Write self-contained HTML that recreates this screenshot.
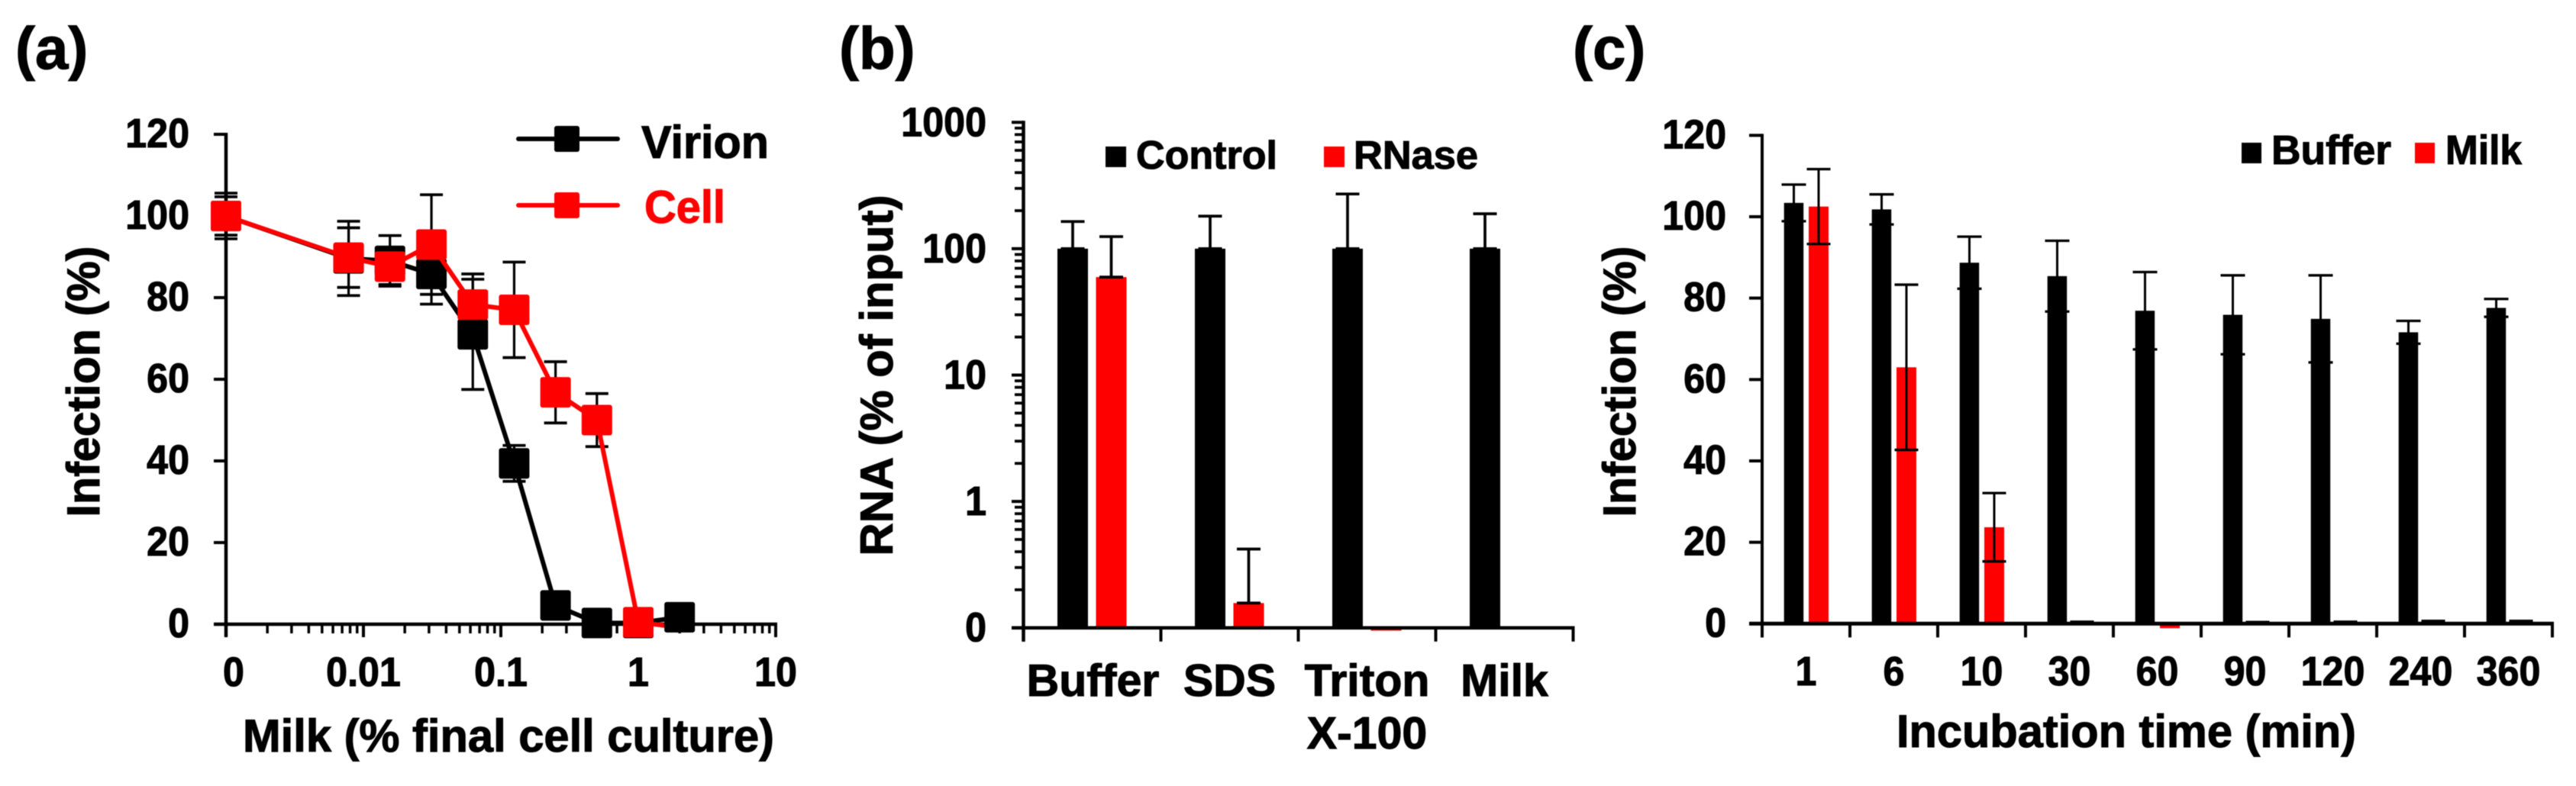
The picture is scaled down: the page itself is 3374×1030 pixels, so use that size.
<!DOCTYPE html>
<html lang="en">
<head>
<meta charset="utf-8">
<title>Milk inhibits infection: panels a, b and c</title>
<style>
html,body{margin:0;padding:0;background:#fff;}
svg{display:block;filter:blur(0.5px);}
text{font-family:"Liberation Sans",sans-serif;font-weight:700;fill:#000;stroke:#000;stroke-width:1.1px;}
</style>
</head>
<body>
<svg id="figure" xmlns="http://www.w3.org/2000/svg" width="3374" height="1030" viewBox="0 0 3374 1030">
  <rect x="0" y="0" width="3374" height="1030" fill="#fff"/>

  <text x="20" y="90" font-size="78">(a)</text>
  <text x="1099" y="90" font-size="78">(b)</text>
  <text x="2060" y="90" font-size="78">(c)</text>

  <g id="panel-a"></g>
  <g id="panel-b"></g>
  <g id="panel-c"></g>

  <text transform="translate(130,500) rotate(-90)" text-anchor="middle" font-size="60" textLength="355" lengthAdjust="spacingAndGlyphs">Infection (%)</text>
  <text x="666" y="985" text-anchor="middle" font-size="60" textLength="696" lengthAdjust="spacingAndGlyphs">Milk (% final cell culture)</text>

  <g>
    <line x1="679" y1="182" x2="809" y2="182" stroke="#000" stroke-width="6" stroke-linecap="round"/>
    <rect x="726" y="165" width="33" height="34" rx="3" fill="#000"/>
    <text x="840" y="207" font-size="60" textLength="167" lengthAdjust="spacingAndGlyphs">Virion</text>
    <line x1="679" y1="269" x2="809" y2="269" stroke="#f00" stroke-width="6" stroke-linecap="round"/>
    <rect x="726" y="252" width="33" height="34" rx="3" fill="#f00"/>
    <text x="844" y="292" font-size="60" textLength="106" lengthAdjust="spacingAndGlyphs" style="fill:#f00;stroke:#f00">Cell</text>
  </g>

  <text transform="translate(1169,492) rotate(-90)" text-anchor="middle" font-size="60" textLength="473" lengthAdjust="spacingAndGlyphs">RNA (% of input)</text>
  <g>
    <rect x="1448" y="192" width="27" height="27" fill="#000"/>
    <text x="1488" y="221" font-size="52" textLength="185" lengthAdjust="spacingAndGlyphs">Control</text>
    <rect x="1734" y="192" width="27" height="27" fill="#f00"/>
    <text x="1773" y="221" font-size="52" textLength="163" lengthAdjust="spacingAndGlyphs">RNase</text>
  </g>

  <text transform="translate(2142,500) rotate(-90)" text-anchor="middle" font-size="60" textLength="355" lengthAdjust="spacingAndGlyphs">Infection (%)</text>
  <text x="2785" y="979" text-anchor="middle" font-size="60" textLength="602" lengthAdjust="spacingAndGlyphs">Incubation time (min)</text>
  <g>
    <rect x="2936" y="187" width="26" height="27" fill="#000"/>
    <text x="2975" y="215" font-size="54" textLength="157" lengthAdjust="spacingAndGlyphs">Buffer</text>
    <rect x="3163" y="187" width="26" height="27" fill="#f00"/>
    <text x="3203" y="215" font-size="54" textLength="100" lengthAdjust="spacingAndGlyphs">Milk</text>
  </g>
</svg>

<script>
// Panel (a) data
const aDoses = [0, 0.0078, 0.0156, 0.03125, 0.0625, 0.125, 0.25, 0.5, 1, 2];
const aVirion = [100, 89.6, 89, 85.8, 71, 39.4, 4.6, 0.3, 0.3, 1.7];
const aVirionErr = [5.6, 9.1, 6.2, 7.4, 13.5, 4.4, 0, 0, 0, 0];
const aCell = [100, 89.8, 87.6, 93, 78.3, 77, 56.8, 50, 0.5, -0.8];
const aCellErr = [4.7, 7.3, 4.4, 12.2, 7.5, 11.7, 7.5, 6.5, 0, 0];
const aYTicks = [0, 20, 40, 60, 80, 100, 120];
const aXTicks = [0.001, 0.01, 0.1, 1, 10];
const aXTickLabels = ['0', '0.01', '0.1', '1', '10'];

// Panel (b) data
const bCategories = ['Buffer', 'SDS', 'Triton|X-100', 'Milk'];
const bControl = [100, 100, 100, 100];
const bControlUpper = [164, 181, 271, 189];
const bRNase = [59.6, 0.157, 0.095, 0.1];
const bRNaseUpper = [124.6, 0.42, null, null];
const bYTicks = [0.1, 1, 10, 100, 1000];
const bYTickLabels = ['0', '1', '10', '100', '1000'];

// Panel (c) data
const cCategories = ['1', '6', '10', '30', '60', '90', '120', '240', '360'];
const cBuffer = [103.4, 101.8, 88.7, 85.4, 76.9, 75.9, 74.9, 71.6, 77.6];
const cBufferErr = [4.5, 3.7, 6.4, 8.7, 9.5, 9.7, 10.7, 2.8, 2.2];
const cMilk = [102.5, 63, 23.7, 0.45, -1.1, 0.4, 0.45, 0.65, 0.65];
const cMilkErr = [9.2, 20.3, 8.4, 0, 0, 0, 0, 0, 0];
const cYTicks = [0, 20, 40, 60, 80, 100, 120];

const NS = 'http://www.w3.org/2000/svg';
function mk(tag, parent, attrs) {
  const el = document.createElementNS(NS, tag);
  for (const k in attrs) el.setAttribute(k, attrs[k]);
  parent.appendChild(el);
  return el;
}

// Axis functions
const aX = d => 296 + 180 * (Math.log10(Math.max(d, 0.001)) + 3);
const aY = v => 818 - 5.35 * v;
const bX = i => 1340.5 + 180 * i;
const bY = v => 822.7 - 165.6 * (Math.log10(v) + 1);
const cX = i => 2308 + 115 * i;
const cY = v => 817.3 - 5.333 * v;

const panelA = document.getElementById('panel-a');
const panelB = document.getElementById('panel-b');
const panelC = document.getElementById('panel-c');

function errorBar(parent, x, yTop, yBottom, capW, stemW, capStroke, baseName) {
  const stem = mk('line', parent, {x1: x, x2: x, y1: yTop, y2: yBottom, stroke: '#000', 'stroke-width': stemW});
  
  
  const top = mk('line', parent, {x1: x - capW / 2, x2: x + capW / 2, y1: yTop, y2: yTop, stroke: '#000', 'stroke-width': capStroke});
  
  
  const bottom = mk('line', parent, {x1: x - capW / 2, x2: x + capW / 2, y1: yBottom, y2: yBottom, stroke: '#000', 'stroke-width': capStroke});
  
  
}

function yAxisLabel(parent, text, y, rightX, dy, name) {
  const t = mk('text', parent, {transform: 'translate(' + rightX + ',' + (y + dy) + ') scale(.93,1)', 'text-anchor': 'end', 'font-size': 54});
  t.textContent = text;
  
  
}

/* ---------- Panel (a) ---------- */
(function () {
  const axisY = mk('line', panelA, {x1: aX(0.001), x2: aX(0.001), y1: aY(120) - 2, y2: aY(0) + 17, stroke: '#000', 'stroke-width': 4.5});
  
  
  const axisX = mk('line', panelA, {x1: 280, x2: aX(10) + 2, y1: aY(0), y2: aY(0), stroke: '#000', 'stroke-width': 4.5});
  
  

  aYTicks.forEach(v => {
    const tick = mk('line', panelA, {x1: 280, x2: aX(0.001), y1: aY(v), y2: aY(v), stroke: '#000', 'stroke-width': 4});
    
    
    yAxisLabel(panelA, String(v), aY(v), 248, 17, 'a-y-tick-label-' + v);
  });

  aXTicks.forEach((d, i) => {
    const tick = mk('line', panelA, {x1: aX(d), x2: aX(d), y1: aY(0), y2: aY(0) + 17, stroke: '#000', 'stroke-width': 4});
    
    
    const dx = i === 0 ? 10 : 0;
    const t = mk('text', panelA, {transform: 'translate(' + (aX(d) + dx) + ',899) scale(.93,1)', 'text-anchor': 'middle', 'font-size': 54});
    t.textContent = aXTickLabels[i];
    
    
    if (i < aXTicks.length - 1) {
      for (let k = 2; k < 10; k++) {
        const m = mk('line', panelA, {x1: aX(d * k), x2: aX(d * k), y1: aY(0), y2: aY(0) + 12, stroke: '#000', 'stroke-width': 3.5});
        
        
      }
    }
  });

  function series(values, errs, color, key, lastMarkerLater) {
    aDoses.forEach((d, i) => {
      if (errs[i] > 0) errorBar(panelA, aX(d), aY(values[i] + errs[i]), aY(values[i] - errs[i]), 30, 3.2, 3.7, 'a-' + key + '-error-' + i);
    });
    const pts = aDoses.map((d, i) => aX(d) + ',' + aY(values[i])).join(' ');
    const line = mk('polyline', panelA, {points: pts, fill: 'none', stroke: color, 'stroke-width': 6, 'stroke-linejoin': 'round'});
    
    
    aDoses.forEach((d, i) => {
      if (lastMarkerLater && i === aDoses.length - 1) return;
      marker(d, values[i], color, key, i);
    });
  }
  function marker(d, v, color, key, i) {
    const m = mk('rect', panelA, {x: aX(d) - 20, y: aY(v) - 20, width: 40, height: 40, rx: 3, fill: color});
    
    
  }
  series(aVirion, aVirionErr, '#000', 'virion', true);
  series(aCell, aCellErr, '#f00', 'cell', true);
  const last = aDoses.length - 1;
  marker(aDoses[last], aVirion[last], '#000', 'virion', last);
})();

/* ---------- Panel (b) ---------- */
(function () {
  bCategories.forEach((c, i) => {
    const name = c.split('|')[0].toLowerCase();
    const ctl = mk('rect', panelB, {x: bX(i) + 44.5, y: bY(bControl[i]), width: 40, height: bY(0.1) - bY(bControl[i]), fill: '#000'});
    
    
    const rn = bRNase[i] < 0.1
      ? mk('rect', panelB, {x: bX(i) + 95, y: bY(0.1), width: 40, height: bY(bRNase[i]) - bY(0.1), fill: '#f00'})
      : mk('rect', panelB, {x: bX(i) + 95, y: bY(bRNase[i]), width: 40, height: bY(0.1) - bY(bRNase[i]), fill: '#f00'});
    
    
    errorBar(panelB, bX(i) + 64.5, bY(bControlUpper[i]), bY(bControl[i]), 31, 3.7, 3.7, 'b-control-error-' + name);
    if (bRNaseUpper[i] !== null) errorBar(panelB, bX(i) + 115, bY(bRNaseUpper[i]), bY(bRNase[i]), 31, 3.7, 3.7, 'b-rnase-error-' + name);
  });

  const axisY = mk('line', panelB, {x1: bX(0), x2: bX(0), y1: bY(1000) - 2, y2: bY(0.1) + 18, stroke: '#000', 'stroke-width': 4.5});
  
  
  const axisX = mk('line', panelB, {x1: 1325, x2: bX(4) + 2, y1: bY(0.1), y2: bY(0.1), stroke: '#000', 'stroke-width': 4.5});
  
  

  bYTicks.forEach((v, i) => {
    const tick = mk('line', panelB, {x1: 1325, x2: bX(0), y1: bY(v), y2: bY(v), stroke: '#000', 'stroke-width': 4});
    
    
    yAxisLabel(panelB, bYTickLabels[i], bY(v), 1292, 18, 'b-y-tick-label-' + bYTickLabels[i]);
    if (i < bYTicks.length - 1) {
      for (let k = 2; k < 10; k++) {
        const m = mk('line', panelB, {x1: 1329, x2: bX(0), y1: bY(v * k), y2: bY(v * k), stroke: '#000', 'stroke-width': 3.7});
        
        
      }
    }
  });

  for (let i = 0; i <= bCategories.length; i++) {
    const tick = mk('line', panelB, {x1: bX(i), x2: bX(i), y1: bY(0.1), y2: bY(0.1) + 18, stroke: '#000', 'stroke-width': 4});
    
    
  }

  bCategories.forEach((c, i) => {
    c.split('|').forEach((part, j) => {
      const t = mk('text', panelB, {x: bX(i) + 90 - (i === 0 ? -1 : 0), y: j === 0 ? 912 : 981, 'text-anchor': 'middle', 'font-size': 59});
      t.textContent = part;
      
      
    });
  });
})();

/* ---------- Panel (c) ---------- */
(function () {
  cCategories.forEach((c, i) => {
    const buf = mk('rect', panelC, {x: cX(i) + 28.7, y: cY(cBuffer[i]), width: 25.5, height: cY(0) - cY(cBuffer[i]), fill: '#000'});
    
    
    const v = cMilk[i];
    const milk = v < 0
      ? mk('rect', panelC, {x: cX(i) + 61, y: cY(0), width: 26, height: cY(v) - cY(0), fill: '#f00'})
      : mk('rect', panelC, {x: cX(i) + 61, y: cY(v), width: 26, height: cY(0) - cY(v), fill: '#f00'});
    
    
    errorBar(panelC, cX(i) + 41.5, cY(cBuffer[i] + cBufferErr[i]), cY(cBuffer[i] - cBufferErr[i]), 32, 3, 3.3, 'c-buffer-error-' + c);
    if (v >= 0) errorBar(panelC, cX(i) + 74, cY(v + cMilkErr[i]), cY(v - cMilkErr[i]), 31, 3, 3.3, 'c-milk-error-' + c);
  });

  const axisY = mk('line', panelC, {x1: cX(0), x2: cX(0), y1: cY(120) - 2, y2: cY(0) + 18, stroke: '#000', 'stroke-width': 4});
  
  
  const axisX = mk('line', panelC, {x1: 2291, x2: cX(9) + 2, y1: cY(0), y2: cY(0), stroke: '#000', 'stroke-width': 5});
  
  

  cYTicks.forEach(v => {
    const tick = mk('line', panelC, {x1: 2291, x2: cX(0), y1: cY(v), y2: cY(v), stroke: '#000', 'stroke-width': 4});
    
    
    yAxisLabel(panelC, String(v), cY(v), 2261, 17, 'c-y-tick-label-' + v);
  });

  for (let i = 0; i <= cCategories.length; i++) {
    const tick = mk('line', panelC, {x1: cX(i), x2: cX(i), y1: cY(0), y2: cY(0) + 18, stroke: '#000', 'stroke-width': 4});
    
    
  }

  cCategories.forEach((c, i) => {
    const t = mk('text', panelC, {transform: 'translate(' + (cX(i) + 57.5) + ',898) scale(.93,1)', 'text-anchor': 'middle', 'font-size': 54});
    t.textContent = c;
    
    
  });
})();
</script>
</body>
</html>
